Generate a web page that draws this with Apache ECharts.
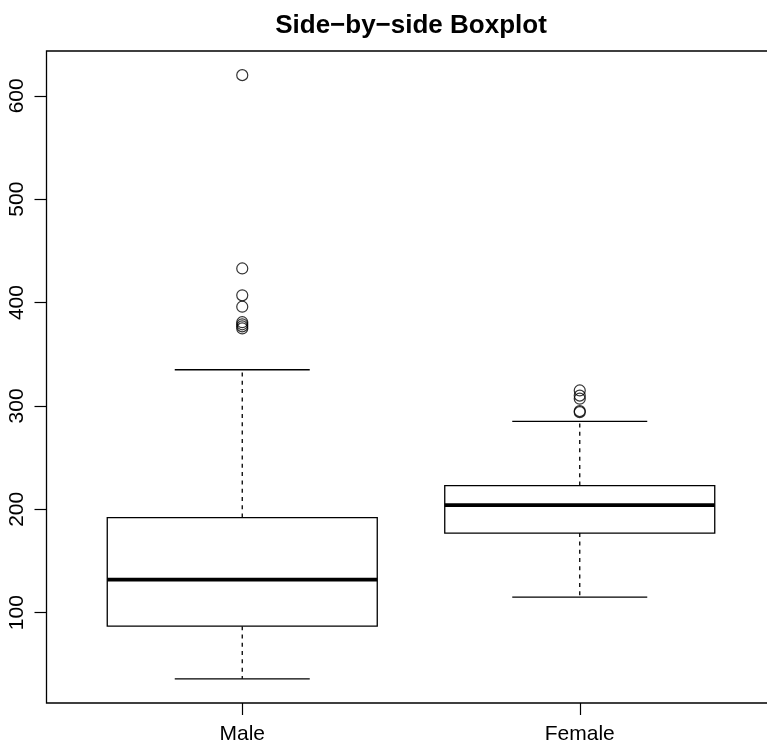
<!DOCTYPE html>
<html>
<head>
<meta charset="utf-8">
<title>Side-by-side Boxplot</title>
<script src="https://cdn.jsdelivr.net/npm/echarts@6/dist/echarts.min.js"></script>
<style>
  html, body { margin: 0; padding: 0; background: #fff; }
  #chart { width: 767px; height: 741px; }
</style>
</head>
<body>
<div id="chart"></div>
<script>
// box statistics
const categories = ["Male", "Female"];
const lowerWhisker = [36, 115];
const lowerHinge = [87, 177];
const medians = [132, 204];
const upperHinge = [192, 223];
const upperWhisker = [335, 285];
const maleOutliers = [620, 433, 407, 396, 381, 379, 377, 375];
const femaleOutliers = [315, 310, 307, 295, 294];
const yTicks = [100, 200, 300, 400, 500, 600];
const xTicks = [1, 2];

// R style axis range: data range padded by 4%
const allValues = lowerWhisker.concat(upperWhisker, maleOutliers, femaleOutliers);
const dataMin = Math.min(...allValues);
const dataMax = Math.max(...allValues);
const pad = (dataMax - dataMin) * 0.04;

const boxWidth = 0.8;
const capWidth = 0.4;
const font = "Liberation Sans, Arial, Helvetica, sans-serif";

const chart = echarts.init(document.getElementById("chart"));

const boxData = categories.map((c, i) => [
  i + 1, lowerWhisker[i], lowerHinge[i], medians[i], upperHinge[i], upperWhisker[i],
]);
const outlierData = maleOutliers.map((v) => [1, v]).concat(femaleOutliers.map((v) => [2, v]));

function renderBox(params, api) {
  const x = api.value(0);
  const lo = api.coord([x, api.value(1)]);
  const q1 = api.coord([x, api.value(2)]);
  const md = api.coord([x, api.value(3)]);
  const q3 = api.coord([x, api.value(4)]);
  const hi = api.coord([x, api.value(5)]);
  const half = api.size([boxWidth, 0])[0] / 2;
  const capHalf = api.size([capWidth, 0])[0] / 2;
  const cx = lo[0];
  const line = { stroke: "#000", lineWidth: 1.3 };
  const dashed = { stroke: "#000", lineWidth: 1.3, lineDash: [4, 4.3] };
  return {
    type: "group",
    children: [
      { type: "line", shape: { x1: cx, y1: q3[1], x2: cx, y2: hi[1] }, style: dashed },
      { type: "line", shape: { x1: cx, y1: q1[1], x2: cx, y2: lo[1] }, style: dashed },
      { type: "line", shape: { x1: cx - capHalf, y1: hi[1], x2: cx + capHalf, y2: hi[1] }, style: line },
      { type: "line", shape: { x1: cx - capHalf, y1: lo[1], x2: cx + capHalf, y2: lo[1] }, style: line },
      {
        type: "rect",
        shape: { x: cx - half, y: q3[1], width: half * 2, height: q1[1] - q3[1] },
        style: { fill: "#fff", stroke: "#000", lineWidth: 1.3 },
      },
      {
        type: "line",
        shape: { x1: cx - half, y1: md[1], x2: cx + half, y2: md[1] },
        style: { stroke: "#000", lineWidth: 3.8 },
      },
    ],
  };
}

chart.setOption({
  animation: false,
  backgroundColor: "#fff",
  textStyle: { fontFamily: font },
  graphic: [
    {
      type: "text",
      x: 411,
      y: 26,
      style: {
        text: "Side\u2212by\u2212side Boxplot",
        font: "bold 26px " + font,
        fill: "#000",
        textAlign: "center",
        textVerticalAlign: "middle",
      },
    },
  ],
  grid: {
    left: 46.5,
    top: 51,
    width: 729,
    height: 652,
    outerBoundsMode: "none",
    containLabel: false,
    show: true,
    borderColor: "#000",
    borderWidth: 1.3,
    backgroundColor: "transparent",
  },
  xAxis: {
    type: "value",
    min: 1 - 0.5 - 0.08,
    max: categories.length + 0.5 + 0.08,
    splitLine: { show: false },
    axisLine: { show: false },
    axisTick: { show: true, length: 12, customValues: xTicks, lineStyle: { color: "#000", width: 1.2 } },
    axisLabel: {
      customValues: xTicks,
      formatter: (v) => categories[Math.round(v) - 1],
      margin: 21,
      fontSize: 21,
      color: "#000",
      fontFamily: font,
    },
  },
  yAxis: {
    type: "value",
    min: dataMin - pad,
    max: dataMax + pad,
    splitLine: { show: false },
    axisLine: { show: false },
    axisTick: { show: true, length: 12, customValues: yTicks, lineStyle: { color: "#000", width: 1.2 } },
    axisLabel: {
      customValues: yTicks,
      rotate: 90,
      margin: 19,
      fontSize: 21,
      color: "#000",
      fontFamily: font,
    },
  },
  series: [
    {
      type: "custom",
      renderItem: renderBox,
      data: boxData,
      clip: false,
    },
    {
      type: "scatter",
      data: outlierData,
      symbol: "circle",
      symbolSize: 11,
      itemStyle: { color: "rgba(0,0,0,0)", borderColor: "#000", borderWidth: 1.2 },
      z: 3,
    },
  ],
});

window.addEventListener("resize", chart.resize);
</script>
</body>
</html>
